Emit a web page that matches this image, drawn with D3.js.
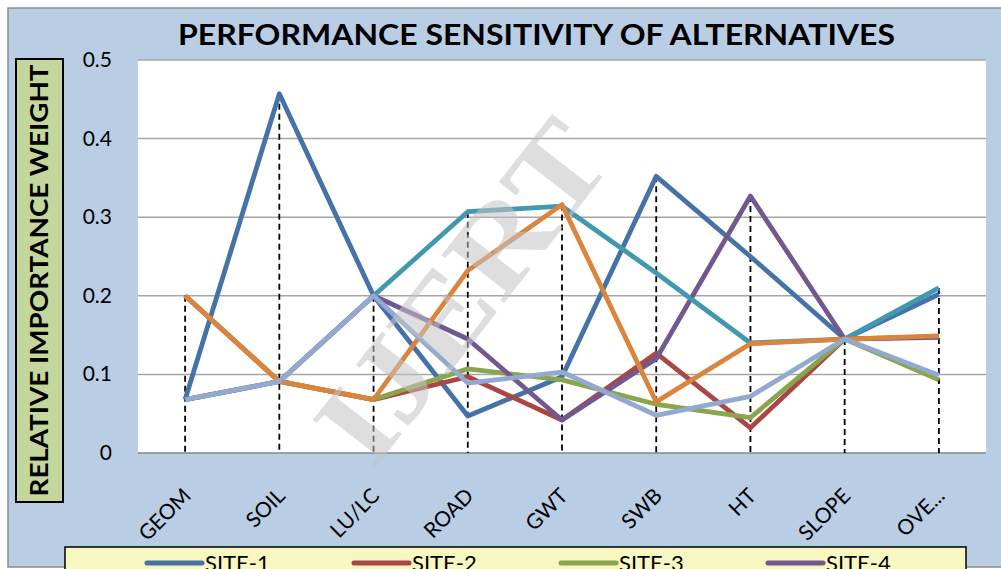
<!DOCTYPE html>
<html>
<head>
<meta charset="utf-8">
<script src="https://cdn.jsdelivr.net/npm/d3@7"></script>
<style>
  body { margin: 0; background: #fff; }
  svg { display: block; font-family: Lato, "Open Sans", sans-serif; }
</style>
</head>
<body>
<div id="chart"></div>
<script>
// Categories and series
const categories = ["GEOM", "SOIL", "LU/LC", "ROAD", "GWT", "SWB", "HT", "SLOPE", "OVE..."];
const seriesNames = ["SITE-1", "SITE-2", "SITE-3", "SITE-4", "SITE-5", "SITE-6", "SITE-7"];
const site1 = [0.068, 0.457, 0.200, 0.047, 0.097, 0.352, 0.250, 0.145, 0.202];
const site2 = [0.200, 0.091, 0.068, 0.097, 0.042, 0.127, 0.032, 0.145, 0.148];
const site3 = [0.200, 0.091, 0.068, 0.107, 0.093, 0.062, 0.045, 0.145, 0.093];
const site4 = [0.068, 0.091, 0.200, 0.145, 0.042, 0.120, 0.327, 0.145, 0.147];
const site5 = [0.068, 0.091, 0.200, 0.307, 0.314, 0.229, 0.140, 0.145, 0.210];
const site6 = [0.200, 0.091, 0.068, 0.232, 0.316, 0.065, 0.139, 0.145, 0.149];
const site7 = [0.068, 0.091, 0.200, 0.089, 0.103, 0.048, 0.072, 0.145, 0.099];
const yTicks = [0, 0.1, 0.2, 0.3, 0.4, 0.5];
const colors = ["#4572A7", "#AA4643", "#89A54E", "#71588F", "#4198AF", "#DB843D", "#93A9CF"];

const allSeries = [site1, site2, site3, site4, site5, site6, site7];

const W = 1001, H = 569;
const margin = {top: 60, right: 15, bottom: 116, left: 138};
const width = W - margin.left - margin.right,
      height = H - margin.top - margin.bottom;

const svg = d3.select("#chart").append("svg")
    .attr("width", W)
    .attr("height", H);

// chart area background
svg.append("rect")
    .attr("x", 8).attr("y", 8)
    .attr("width", W).attr("height", H - 10)
    .attr("fill", "#B9CDE5")
    .attr("stroke", "#8C8C8C")
    .attr("stroke-width", 1.5);

// title
svg.append("text")
    .attr("x", 178).attr("y", 45)
    .attr("textLength", 717)
    .attr("lengthAdjust", "spacingAndGlyphs")
    .style("font-size", "29px")
    .style("font-weight", "bold")
    .text("PERFORMANCE SENSITIVITY OF ALTERNATIVES");

const g = svg.append("g")
    .attr("transform", `translate(${margin.left},${margin.top})`);

const x = d3.scaleBand()
    .domain(categories)
    .range([0, width]);

const y = d3.scaleLinear()
    .domain([0, 0.5])
    .range([height, 0]);

// plot area
g.append("rect")
    .attr("width", width).attr("height", height)
    .attr("fill", "#fff");

// gridlines
g.append("g")
    .selectAll("line")
    .data(yTicks.slice(1))
    .join("line")
      .attr("x1", 0).attr("x2", width)
      .attr("y1", d => y(d)).attr("y2", d => y(d))
      .attr("stroke", "#A6A6A6")
      .attr("stroke-width", 1.5);

// y axis labels
g.append("g")
    .selectAll("text")
    .data(yTicks)
    .join("text")
      .attr("x", -26)
      .attr("y", d => y(d) + 7)
      .attr("text-anchor", "end")
      .style("font-size", "21px")
      .text(d => d === 0 ? "0" : d3.format(".1f")(d));

// x axis line
g.append("line")
    .attr("x1", 0).attr("x2", width)
    .attr("y1", height).attr("y2", height)
    .attr("stroke", "#868686")
    .attr("stroke-width", 1.5);

// drop lines from the top value to the axis
g.append("g")
    .selectAll("line")
    .data(categories)
    .join("line")
      .attr("x1", d => x(d) + x.bandwidth() / 2)
      .attr("x2", d => x(d) + x.bandwidth() / 2)
      .attr("y1", (d, i) => y(d3.max(allSeries, s => s[i])))
      .attr("y2", height)
      .attr("stroke", "#000")
      .attr("stroke-width", 1.8)
      .attr("stroke-dasharray", "6,4");

// x labels
g.append("g")
    .selectAll("text")
    .data(categories)
    .join("text")
      .attr("transform", d => `translate(${x(d) + x.bandwidth() / 2 - 4},${height + 33}) rotate(-45)`)
      .attr("text-anchor", "end")
      .attr("dy", "0.75em")
      .style("font-size", "21px")
      .text(d => d);

// lines
const line = d3.line()
    .x((d, i) => x(categories[i]) + x.bandwidth() / 2)
    .y(d => y(d));

g.append("g")
    .selectAll("path")
    .data(allSeries)
    .join("path")
      .attr("fill", "none")
      .attr("stroke", (d, i) => colors[i])
      .attr("stroke-width", 4.8)
      .attr("stroke-linejoin", "round")
      .attr("d", line);

// watermark
svg.append("text")
    .attr("transform", "translate(372,472) rotate(-52)")
    .style("font-family", "'Liberation Serif', serif")
    .style("font-size", "120px")
    .style("font-weight", "bold")
    .attr("fill", "#c4c4c4")
    .attr("opacity", 0.55)
    .attr("textLength", 395)
    .attr("lengthAdjust", "spacingAndGlyphs")
    .text("IJERT");

// y axis title box
svg.append("rect")
    .attr("x", 16).attr("y", 59)
    .attr("width", 47).attr("height", 443)
    .attr("fill", "#C3D69B")
    .attr("stroke", "#000")
    .attr("stroke-width", 2);

svg.append("text")
    .attr("transform", "translate(48,280.5) rotate(-90)")
    .attr("text-anchor", "middle")
    .style("font-size", "24px")
    .style("font-weight", "bold")
    .attr("textLength", 432)
    .attr("lengthAdjust", "spacingAndGlyphs")
    .text("RELATIVE IMPORTANCE WEIGHT");

// legend
const legend = svg.append("g");
legend.append("rect")
    .attr("x", 65).attr("y", 547)
    .attr("width", 901).attr("height", 60)
    .attr("fill", "#F9F7C1")
    .attr("stroke", "#000")
    .attr("stroke-width", 1.5);

const items = legend.selectAll("g.item")
    .data(seriesNames.slice(0, 4))
    .join("g")
      .attr("class", "item")
      .attr("transform", (d, i) => `translate(${147 + i * 207},563)`);

items.append("line")
    .attr("x1", 0).attr("x2", 55)
    .attr("stroke", (d, i) => colors[i])
    .attr("stroke-width", 5)
    .attr("stroke-linecap", "round");

items.append("text")
    .attr("x", 58).attr("y", 8)
    .style("font-size", "22px")
    .text(d => d);
</script>
</body>
</html>
